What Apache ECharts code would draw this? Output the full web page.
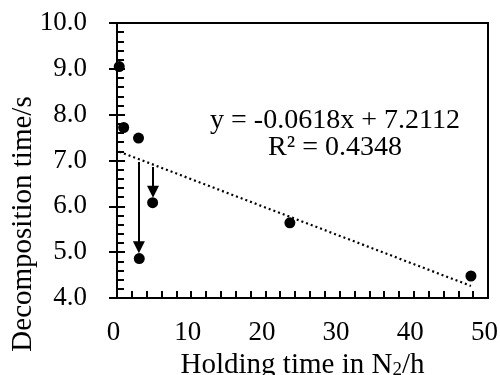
<!DOCTYPE html>
<html>
<head>
<meta charset="utf-8">
<script src="https://cdn.jsdelivr.net/npm/echarts@6/dist/echarts.min.js"></script>
<style>
  html, body { margin: 0; padding: 0; background: #fff; }
  #chart { width: 500px; height: 375px; }
</style>
</head>
<body>
<div id="chart"></div>
<script>
// holding time in N2 (h) vs decomposition time (s)
const holdingTime = [0.3, 0.9, 2.9, 3.0, 4.8, 23.3, 47.7];
const decompTime = [9.05, 7.72, 7.49, 4.86, 6.08, 5.64, 4.48];

// linear trendline as printed on the chart
const fitSlope = -0.0618;
const fitIntercept = 7.2112;
const fitR2 = 0.4348;

// arrows (x, from y, to y)
const arrowX = [2.95, 4.85];
const arrowFrom = [6.97, 6.86];
const arrowTo = [5.11, 6.32];

const xMin = 0, xMax = 50, xStep = 10;
const yMin = 4, yMax = 10, yStep = 1;

const serif = "'Liberation Serif', 'Times New Roman', serif";
const ink = '#000';

const points = holdingTime.map((x, i) => [x, decompTime[i]]);
const xLo = Math.min(...holdingTime);
const xHi = Math.max(...holdingTime);
const trend = [xLo, xHi].map(x => [x, fitSlope * x + fitIntercept]);
const arrows = arrowX.map((x, i) => ({ coords: [[x, arrowFrom[i]], [x, arrowTo[i]]] }));

const chart = echarts.init(document.getElementById('chart'));

const option = {
  animation: false,
  grid: {
    left: 117, right: 12, top: 23, bottom: 77,
    show: true,
    borderColor: ink,
    borderWidth: 2,
    outerBoundsMode: 'none'
  },
  xAxis: {
    type: 'value',
    min: xMin, max: xMax, interval: xStep,
    axisLine: { lineStyle: { color: ink, width: 2 } },
    axisTick: { inside: true, length: 7, lineStyle: { color: ink, width: 2 } },
    minorTick: { show: true, splitNumber: 5, length: 7, lineStyle: { color: ink, width: 2 } },
    splitLine: { show: false },
    axisLabel: {
      color: ink, fontFamily: serif, fontSize: 27, margin: 21,
      padding: [0, 7, 0, 0]
    },
    name: 'Holding time in N{sub|2}/h',
    nameLocation: 'middle',
    nameGap: 45,
    nameTextStyle: {
      color: ink, fontFamily: serif, fontSize: 29,
      rich: {
        sub: { fontFamily: serif, fontSize: 19, color: ink, verticalAlign: 'bottom' }
      }
    }
  },
  yAxis: [{
    type: 'value',
    min: yMin, max: yMax, interval: yStep,
    axisLine: { lineStyle: { color: ink, width: 2 } },
    axisTick: { inside: true, length: 8, lineStyle: { color: ink, width: 2 } },
    minorTick: { show: true, splitNumber: 5, length: 7, lineStyle: { color: ink, width: 2 } },
    splitLine: { show: false },
    axisLabel: {
      color: ink, fontFamily: serif, fontSize: 27, margin: 30,
      formatter: v => v.toFixed(1)
    }
  }, {
    // outer half of the crossing major ticks
    type: 'value',
    position: 'left',
    min: yMin, max: yMax, interval: yStep,
    axisLine: { show: false },
    axisTick: { inside: false, length: 8, lineStyle: { color: ink, width: 2 } },
    axisLabel: { show: false },
    splitLine: { show: false }
  }],
  graphic: [
    {
      type: 'text',
      x: 23, y: 224,
      rotation: Math.PI / 2,
      style: {
        text: 'Decomposition time/s',
        font: '29px ' + serif,
        fill: ink,
        align: 'center',
        verticalAlign: 'middle'
      }
    },
    {
      type: 'text',
      x: 335, y: 121,
      style: {
        text: 'y = ' + fitSlope.toFixed(4) + 'x + ' + fitIntercept.toFixed(4),
        font: '28px ' + serif,
        fill: ink,
        align: 'center',
        verticalAlign: 'middle'
      }
    },
    {
      type: 'text',
      x: 335, y: 148,
      style: {
        text: 'R\u00b2 = ' + fitR2.toFixed(4),
        font: '28px ' + serif,
        fill: ink,
        align: 'center',
        verticalAlign: 'middle'
      }
    }
  ],
  series: [
    {
      type: 'line',
      data: trend,
      showSymbol: false,
      lineStyle: { color: ink, width: 2.2, type: [2, 3] },
      z: 2
    },
    {
      type: 'lines',
      coordinateSystem: 'cartesian2d',
      data: arrows,
      symbol: ['none', 'triangle'],
      symbolSize: [12, 12],
      lineStyle: { color: ink, width: 2, opacity: 1 },
      z: 3
    },
    {
      type: 'scatter',
      data: points,
      symbol: 'circle',
      symbolSize: 11,
      itemStyle: { color: ink, opacity: 1 },
      z: 4
    }
  ]
};

chart.setOption(option);
</script>
</body>
</html>
